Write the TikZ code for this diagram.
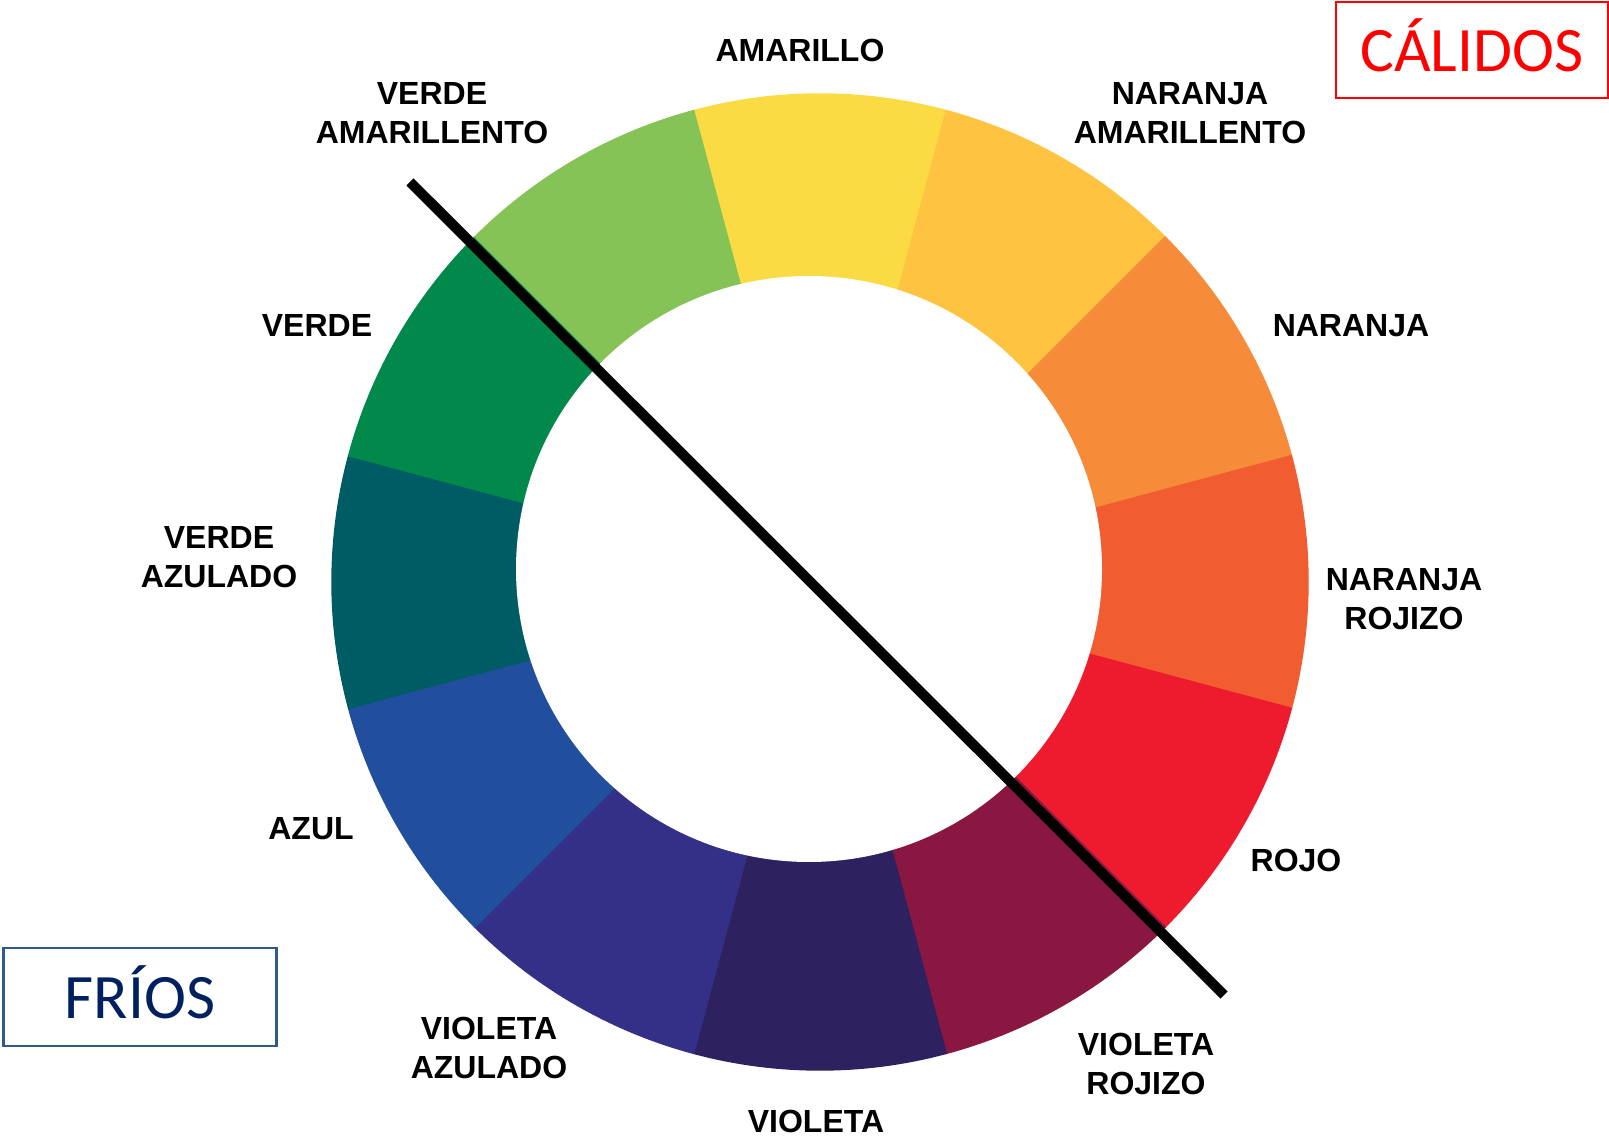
\documentclass[tikz,border=0pt]{standalone}
\usepackage{fontspec}
\setmainfont{Liberation Sans}
\newfontfamily\tagfont{Carlito}
\usetikzlibrary{positioning}

\definecolor{cAmarillo}{HTML}{FBDB43}
\definecolor{cNaranjaAm}{HTML}{FDC341}
\definecolor{cNaranja}{HTML}{F68B3A}
\definecolor{cNaranjaRo}{HTML}{F15D31}
\definecolor{cRojo}{HTML}{EE1B2E}
\definecolor{cVioletaRo}{HTML}{8A1642}
\definecolor{cVioleta}{HTML}{2E2160}
\definecolor{cVioletaAz}{HTML}{343088}
\definecolor{cAzul}{HTML}{214E9D}
\definecolor{cVerdeAz}{HTML}{005C64}
\definecolor{cVerde}{HTML}{00894B}
\definecolor{cVerdeAm}{HTML}{85C356}
\definecolor{cFrios}{HTML}{002060}
\definecolor{cFriosBox}{HTML}{2F5A8C}

\begin{document}
\begin{tikzpicture}[
    x=0.01cm, y=0.01cm,
    lbl/.style={font=\bfseries\fontsize{9.1}{11.1}\selectfont, align=center, inner sep=0pt},
    tag/.style={draw, line width=0.8pt, minimum width=2.72cm, minimum height=0.96cm,
                inner sep=0pt, font=\tagfont\fontsize{18}{21}\selectfont},
    cut/.style={line width=2.9pt, black},
  ]
  \useasboundingbox (0,0) rectangle (1609,1139);
  \coordinate (oc) at (820,557);
  \coordinate (ic) at (809,570);
  % colour wheel
  \foreach \ang/\col in {90/cAmarillo, 60/cNaranjaAm, 30/cNaranja, 0/cNaranjaRo,
      -30/cRojo, -60/cVioletaRo, -90/cVioleta, -120/cVioletaAz, -150/cAzul,
      180/cVerdeAz, 150/cVerde, 120/cVerdeAm}
    \filldraw[fill=\col, draw=\col, line width=0.4pt]
      (oc) -- ++({\ang-15}:488) arc[start angle={\ang-15}, end angle={\ang+15}, radius=488] -- cycle;
  \fill[white] (ic) circle[radius=293];
  % labels
  \node[lbl] (amarillo) at (800,1089) {AMARILLO};
  \node[lbl] (verdeam) at (432,1026) {VERDE\\AMARILLENTO};
  \node[lbl] (naranjaam) at (1190,1026) {NARANJA\\AMARILLENTO};
  \node[lbl] (verde) at (317,814) {VERDE};
  \node[lbl] (naranja) at (1351,813) {NARANJA};
  \node[lbl] (verdeaz) at (219,582) {VERDE\\AZULADO};
  \node[lbl] (naranjaro) at (1404,540) {NARANJA\\ROJIZO};
  \node[lbl] (azul) at (311,310) {AZUL};
  \node[lbl] (rojo) at (1296,279) {ROJO};
  \node[lbl] (violetaaz) at (489,91) {VIOLETA\\AZULADO};
  \node[lbl] (violetaro) at (1146,75) {VIOLETA\\ROJIZO};
  \node[lbl] (violeta) at (816,18) {VIOLETA};
  % division
  \coordinate (cutA) at (410,957);
  \coordinate (cutB) at (1224,144);
  \draw[cut] (cutA) -- (cutB);
  % groups
  \node[tag, draw=red, text=red, text height=0.42cm, text depth=0pt] (calidos) at (1472,1089) {CÁLIDOS};
  \node[tag, draw=cFriosBox, text=cFrios, text height=0.42cm, text depth=0pt,
        minimum width=2.73cm, minimum height=0.98cm] (frios) at (140,142) {FRÍOS};
\end{tikzpicture}
\end{document}
